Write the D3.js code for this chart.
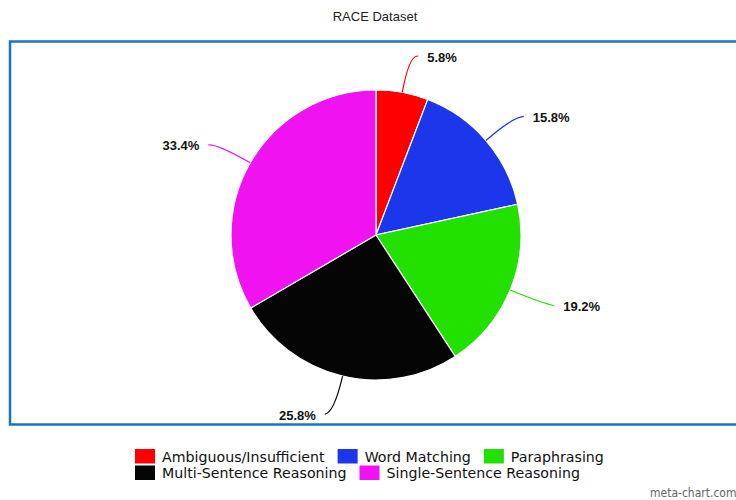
<!DOCTYPE html>
<html>
<head>
<meta charset="utf-8">
<script src="https://cdn.jsdelivr.net/npm/d3@7"></script>
<style>
  html, body { margin: 0; padding: 0; background: #fff; overflow: hidden; }
</style>
</head>
<body>
<div id="chart"></div>
<script>
// data
const categories = ["Ambiguous/Insufficient", "Word Matching", "Paraphrasing", "Multi-Sentence Reasoning", "Single-Sentence Reasoning"];
const values = [5.8, 15.8, 19.2, 25.8, 33.4];
const colors = ["#ff0000", "#1c36ec", "#22e000", "#050505", "#f012f0"];
const legendRows = [[0, 1, 2], [3, 4]];

const width = 736, height = 500;
const cx = 376, cy = 235, radius = 145;

const svg = d3.select("#chart").append("svg")
  .attr("width", width)
  .attr("height", height)
  .attr("font-family", "Liberation Sans, Arial, sans-serif");

// title
svg.append("text")
  .attr("x", 375)
  .attr("y", 21)
  .attr("text-anchor", "middle")
  .attr("font-size", 13)
  .attr("fill", "#222")
  .text("RACE Dataset");

// frame
svg.append("rect")
  .attr("x", 10)
  .attr("y", 41.5)
  .attr("width", 740)
  .attr("height", 383)
  .attr("fill", "none")
  .attr("stroke", "#1a75bc")
  .attr("stroke-width", 2.5);

const pie = d3.pie().sort(null).value(d => d)(values);
const arc = d3.arc().innerRadius(0).outerRadius(radius);

const g = svg.append("g").attr("transform", `translate(${cx},${cy})`);

g.selectAll("path.slice")
  .data(pie)
  .join("path")
  .attr("class", "slice")
  .attr("d", arc)
  .attr("fill", (d, i) => colors[i])
  .attr("stroke", "#fff")
  .attr("stroke-width", 1.2);

// label connectors
const pt = (a, r) => [Math.sin(a) * r, -Math.cos(a) * r];
const labelData = pie.map((d, i) => {
  const mid = (d.startAngle + d.endAngle) / 2;
  const side = Math.sin(mid) >= 0 ? 1 : -1;
  const p0 = pt(mid, radius);
  const p1 = pt(mid, radius + 38);
  const p2 = [p1[0] + side * 9, p1[1] + 1];
  return { i, mid, side, p0, p1, p2 };
});

g.selectAll("path.conn")
  .data(labelData)
  .join("path")
  .attr("class", "conn")
  .attr("d", d => `M${d.p0}Q${d.p1} ${d.p2}`)
  .attr("fill", "none")
  .attr("stroke", d => colors[d.i])
  .attr("stroke-width", 1.2);

g.selectAll("text.lbl")
  .data(labelData)
  .join("text")
  .attr("class", "lbl")
  .attr("x", d => d.p2[0] + d.side * 9)
  .attr("y", d => d.p2[1] + 1)
  .attr("dy", "0.35em")
  .attr("text-anchor", d => d.side > 0 ? "start" : "end")
  .attr("font-size", 13)
  .attr("font-weight", "bold")
  .attr("fill", "#111")
  .text(d => values[d.i].toFixed(1) + "%");

// legend
const legend = svg.append("g")
  .attr("font-family", "DejaVu Sans, sans-serif")
  .attr("font-size", 14.2)
  .attr("fill", "#111");

legendRows.forEach((row, r) => {
  let x = 135;
  const y = 449 + r * 16.5;
  row.forEach(i => {
    legend.append("rect")
      .attr("x", x).attr("y", y)
      .attr("width", 20).attr("height", 14.5)
      .attr("fill", colors[i]);
    const t = legend.append("text")
      .attr("x", x + 27)
      .attr("y", y + 12.5)
      .text(categories[i]);
    x += 27 + t.node().getComputedTextLength() + 13;
  });
});

// watermark
svg.append("text")
  .attr("x", 650)
  .attr("y", 497)
  .attr("font-family", "DejaVu Sans Condensed, DejaVu Sans, sans-serif")
  .attr("font-size", 12)
  .attr("fill", "#666")
  .text("meta-chart.com");
</script>
</body>
</html>
